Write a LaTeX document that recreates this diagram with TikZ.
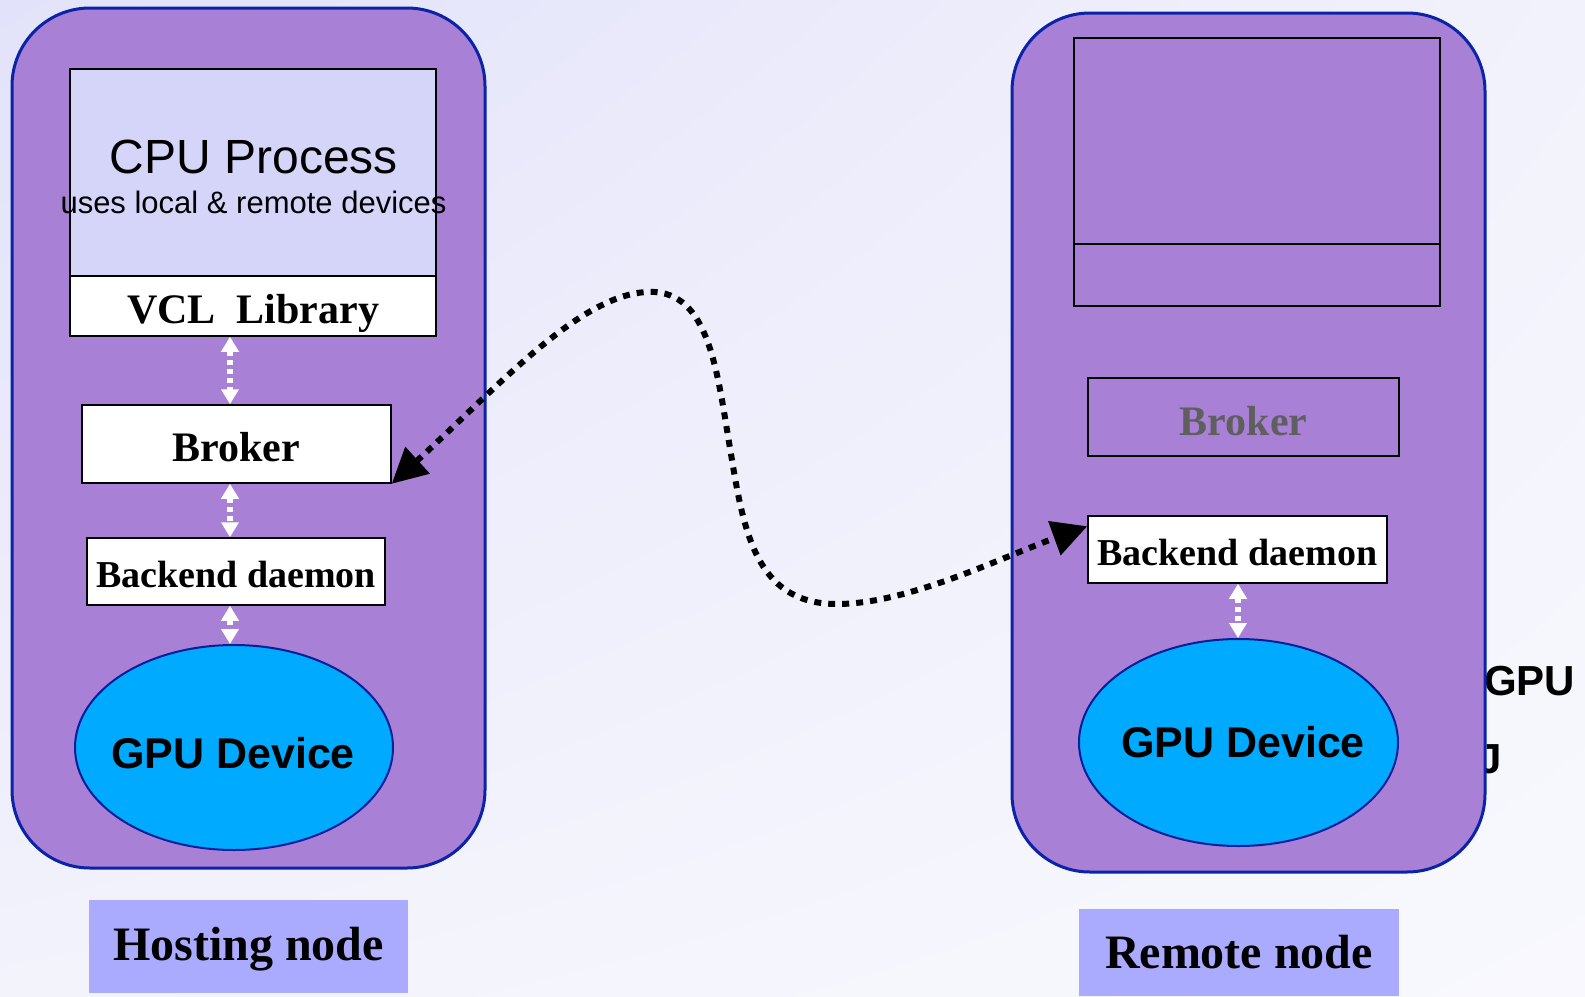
\documentclass[tikz,border=0pt]{standalone}
\usepackage{fontspec}
\setmainfont{Liberation Serif}
\newfontfamily\arialfont{Liberation Sans}
\usetikzlibrary{arrows.meta,shapes.geometric,shadings}
\definecolor{bgUL}{HTML}{E2E2FA}
\definecolor{bgUR}{HTML}{F2F2FC}
\definecolor{bgLL}{HTML}{F3F3FC}
\definecolor{bgLR}{HTML}{F8F8FE}
\definecolor{nodepurple}{HTML}{A880D5}
\definecolor{nodeblue}{HTML}{0B23A6}
\definecolor{cpulav}{HTML}{D5D5FA}
\definecolor{lblfill}{HTML}{AAAAFF}
\definecolor{gpufill}{HTML}{00AAFF}
\definecolor{gpuedge}{HTML}{0A1E9A}
\definecolor{greytext}{HTML}{5F5F5F}
\tikzset{
  outerbox/.style={draw=nodeblue, fill=nodepurple, line width=3pt, rounded corners=78pt, inner sep=0pt},
  stackbox/.style={draw=black, line width=1.5pt, inner sep=0pt, text depth=0pt},
  tb/.style={font=\bfseries\fontsize{#1}{#1}\selectfont},
  ar/.style={font=\arialfont\fontsize{#1}{#1}\selectfont},
  arb/.style={font=\arialfont\bfseries\fontsize{#1}{#1}\selectfont},
  gpunode/.style={ellipse, draw=gpuedge, fill=gpufill, line width=2pt, inner sep=0pt},
  lblbox/.style={fill=lblfill, inner sep=0pt, text depth=0pt},
  warr/.style={white, line width=5.5pt, dash pattern=on 5pt off 4pt, >={Triangle[length=15pt,width=17pt]}, <->},
  bigarr/.style={black, line width=6pt, dash pattern=on 7pt off 7pt, arrows={Triangle[length=35pt,width=35pt]-Triangle[length=35pt,width=35pt]}}
}
\begin{document}
\begin{tikzpicture}[x=1pt,y=-1pt]
\useasboundingbox (0,0) rectangle (1585,996);
\shade[upper left=bgUL, upper right=bgUR, lower left=bgLL, lower right=bgLR] (0,0) rectangle (1585,996);

% partially hidden text at the right
\node[arb=42, anchor=base west, inner sep=0pt] (gpuTxt) at (1484,695) {GPU};
\node[arb=42, anchor=base west, inner sep=0pt] (jTxt) at (1478,773) {J};

% outer nodes
\node[outerbox, minimum width=473pt, minimum height=860pt] (host) at (248.5,438) {};
\node[outerbox, minimum width=473pt, minimum height=859pt] (remote) at (1248.5,442.5) {};

% hosting node stack
\node[stackbox, fill=cpulav, minimum width=366pt, minimum height=207pt] (cpu) at (253,172.5) {};
\node[ar=48, anchor=base, inner sep=0pt] (cpuT1) at (254,173) {CPU Process};
\node[ar=31, anchor=base, inner sep=0pt] (cpuT2) at (253.5,213) {uses local \& remote devices};
\node[stackbox, fill=white, minimum width=366pt, minimum height=60pt, text height=34pt, tb=42] (vcl) at (253,306) {VCL\ \ Library};
\node[stackbox, fill=white, minimum width=309pt, minimum height=78pt, text height=34pt, tb=42] (brokerL) at (236.5,444) {Broker};
\node[stackbox, fill=white, minimum width=298pt, minimum height=67pt, text height=31pt, tb=38] (backL) at (236,571.5) {Backend daemon};
\node[gpunode, minimum width=318pt, minimum height=205pt] (gpuL) at (234,747.5) {};
\node[arb=43, anchor=base, inner sep=0pt] (gpuLT) at (233,768) {GPU Device};
\node[lblbox, minimum width=319pt, minimum height=93pt, text height=27pt, tb=48] (hostLbl) at (248.5,946.5) {Hosting node};

% remote node stack
\node[stackbox, minimum width=366pt, minimum height=206pt] (rTop) at (1257,141) {};
\node[stackbox, minimum width=366pt, minimum height=62pt] (rLib) at (1257,275) {};
\node[stackbox, minimum width=311pt, minimum height=78pt, text height=36pt, tb=42, text=greytext] (brokerR) at (1243.5,417) {Broker};
\node[stackbox, fill=white, minimum width=299pt, minimum height=67pt, text height=31pt, tb=38] (backR) at (1237.5,549.5) {Backend daemon};
\node[gpunode, minimum width=319pt, minimum height=207pt] (gpuR) at (1238.5,742.5) {};
\node[arb=43, anchor=base, inner sep=0pt] (gpuRT) at (1243,757) {GPU Device};
\node[lblbox, minimum width=320pt, minimum height=87pt, text height=31pt, tb=48] (remLbl) at (1239,952.5) {Remote node};

% white local arrows
\coordinate (ax) at (230,0);
\coordinate (bx) at (1238,0);
\draw[warr] (vcl.south -| ax) -- (brokerL.north -| ax);
\draw[warr] (brokerL.south -| ax) -- (backL.north -| ax);
\draw[warr] (backL.south -| ax) -- (gpuL.north -| ax);
\draw[warr] (backR.south -| bx) -- (gpuR.north -| bx);

% remote link
\draw[bigarr] (brokerL.south east) .. controls (500,385) and (585,288) .. (655,292)
  .. controls (712,296) and (718,380) .. (732,460)
  .. controls (745,540) and (760,605) .. (839,604)
  .. controls (910,603) and (1000,558) .. ([yshift=-11pt]backR.north west);
\end{tikzpicture}
\end{document}
